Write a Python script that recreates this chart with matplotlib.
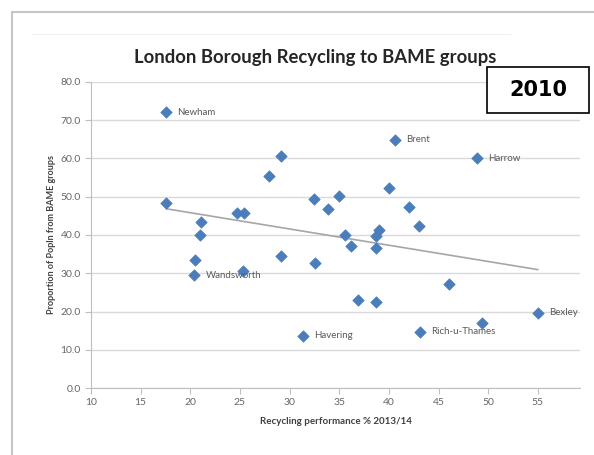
import numpy as np
import matplotlib
matplotlib.use('Agg')
import matplotlib.pyplot as plt
from matplotlib.lines import Line2D
from matplotlib.patches import Rectangle

# recycling performance % 2013/14 vs proportion of population from BAME groups
recycling = [17.6, 17.6, 21.1, 21.0, 20.5, 20.4, 24.7, 25.4, 25.3, 27.9, 29.1,
             29.1, 32.5, 32.6, 33.9, 35.0, 35.6, 36.2, 38.7, 39.0, 38.7, 36.9,
             38.7, 31.4, 40.6, 40.0, 42.0, 43.0, 48.9, 46.1, 43.1, 49.4, 55.0]
bame = [72.1, 48.4, 43.4, 39.9, 33.4, 29.5, 45.8, 45.8, 30.6, 55.4, 60.7,
        34.5, 49.5, 32.7, 46.9, 50.1, 39.9, 37.1, 39.8, 41.4, 36.5, 23.0,
        22.6, 13.7, 64.9, 52.3, 47.2, 42.4, 60.1, 27.1, 14.7, 17.0, 19.7]
labels = {0: 'Newham', 5: 'Wandsworth', 23: 'Havering', 24: 'Brent',
          28: 'Harrow', 30: 'Rich-u-Thames', 32: 'Bexley'}

x_ticks = [10, 15, 20, 25, 30, 35, 40, 45, 50, 55]
y_ticks = [0, 10, 20, 30, 40, 50, 60, 70, 80]

W, H = 594, 455
plt.rcParams['font.family'] = ['Lato', 'DejaVu Sans']
fig = plt.figure(figsize=(W / 100, H / 100), dpi=100)

# outer chart frame (light grey)
fig.add_artist(Line2D([12 / W, 12 / W], [0, 1 - 12 / H], transform=fig.transFigure,
                      color='#c6c6c6', lw=1.5))
fig.add_artist(Line2D([12 / W, 1], [1 - 12 / H, 1 - 12 / H], transform=fig.transFigure,
                      color='#c6c6c6', lw=1.5))
fig.add_artist(Line2D([32 / W, 510 / W], [1 - 34 / H, 1 - 34 / H], transform=fig.transFigure,
                      color='#f0f0f0', lw=0.8))

ax = fig.add_axes([91 / W, 67 / H, (580 - 91) / W, (388 - 82) / H])
ax.set_xlim(10, 59.25)
ax.set_ylim(0, 80)

ax.scatter(recycling, bame, marker='D', s=34, color='#4a7ebb', edgecolors='#4a7ebb',
           linewidths=0.5, zorder=3)

# linear trend line
k, b = np.polyfit(recycling, bame, 1)
xs = np.array([min(recycling), max(recycling)])
ax.plot(xs, k * xs + b, color='#a6a6a6', lw=1.2, zorder=2)

for i, name in labels.items():
    ax.annotate(name, (recycling[i], bame[i]), xytext=(8, 0), textcoords='offset points',
                va='center', ha='left', fontsize=7, color='#595959')

ax.set_xticks(x_ticks)
ax.set_yticks(y_ticks)
ax.set_yticklabels([f'{v:.1f}' for v in y_ticks])
ax.tick_params(axis='both', labelsize=7.5, labelcolor='#666666', color='#bfbfbf',
               length=4, width=0.8)
ax.grid(axis='y', color='#d9d9d9', lw=1)
ax.set_axisbelow(True)
for s in ['top', 'right']:
    ax.spines[s].set_visible(False)
for s in ['left', 'bottom']:
    ax.spines[s].set_color('#bfbfbf')
    ax.spines[s].set_linewidth(0.8)

ax.set_xlabel('Recycling performance % 2013/14', fontsize=7, fontweight='bold',
              color='#404040', labelpad=7)
ax.set_ylabel('Proportion of Popln from BAME groups', fontsize=6.5, fontweight='bold',
              color='#404040', labelpad=3)

fig.text(315 / W, 1 - 57 / H, 'London Borough Recycling to BAME groups', ha='center',
         va='center', fontsize=13.3, fontweight='bold', color='#262626')

# year box
fig.add_artist(Rectangle((487 / W, 1 - 113 / H), 102 / W, 46 / H, transform=fig.transFigure,
                         facecolor='white', edgecolor='black', lw=1.2, zorder=5))
fig.text(538 / W, 1 - 90 / H, '2010', ha='center', va='center', fontsize=15,
         fontweight='bold', family='DejaVu Sans', color='black', zorder=6)

fig.savefig('out.png', dpi=100)
